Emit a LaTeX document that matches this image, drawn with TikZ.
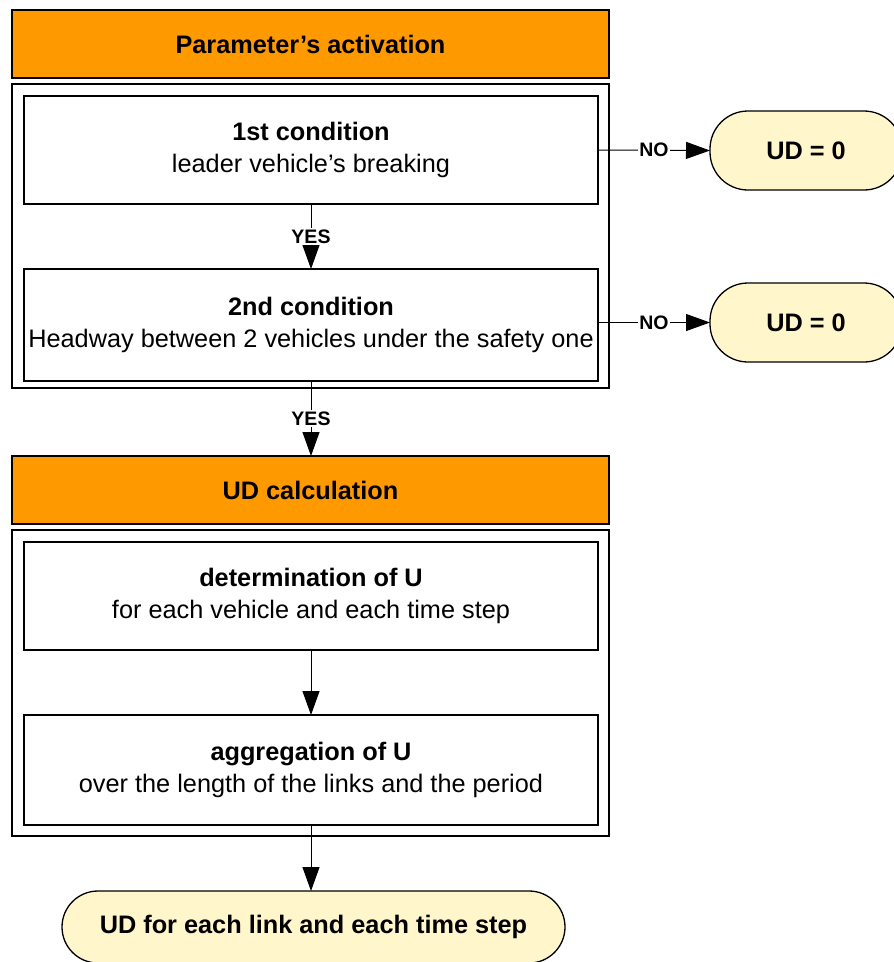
\documentclass[tikz,border=0pt]{standalone}
\usepackage{fontspec}
\setmainfont{Liberation Sans}
\usetikzlibrary{arrows.meta}
\definecolor{hdr}{RGB}{255,153,0}
\definecolor{term}{RGB}{255,246,204}
\tikzset{
  big/.style={font=\fontsize{25.3}{31.5}\selectfont},
  header/.style={draw, line width=1.5pt, fill=hdr, inner sep=0pt, outer sep=0pt, minimum width=597pt, minimum height=68pt, font=\fontsize{25.3}{31.5}\selectfont\bfseries},
  frame/.style={draw, line width=1.5pt, inner sep=0pt, outer sep=0pt, minimum width=597pt},
  stepbox/.style={draw, line width=1.3pt, fill=white, inner sep=0pt, outer sep=0pt, minimum width=574pt, align=center, big},
  terminal/.style={draw, line width=1.3pt, fill=term, inner sep=0pt, outer sep=0pt, rounded corners=38pt, font=\fontsize{25.3}{31.5}\selectfont\bfseries},
  conn/.style={line width=1pt, -{Triangle[length=24pt,width=17pt]}},
  lbl/.style={fill=white, inner sep=1.5pt, font=\fontsize{19.5}{21}\selectfont\bfseries},
}
\begin{document}
\begin{tikzpicture}[x=1pt,y=-1pt]
\useasboundingbox (0,0) rectangle (894,962);
% upper section
\node[header] (h1) at (310.5,44) {Parameter’s activation};
\node[frame, minimum height=304pt] (c1) at (310.5,236) {};
\node[stepbox, minimum height=108pt] (b1) at (311,150) {\textbf{1st condition}\\leader vehicle’s breaking};
\node[stepbox, minimum height=112pt] (b2) at (311,325) {\textbf{2nd condition}\\Headway between 2 vehicles under the safety one};
% lower section
\node[header] (h2) at (310.5,490) {UD calculation};
\node[frame, minimum height=306pt] (c2) at (310.5,683) {};
\node[stepbox, minimum height=108pt] (b3) at (311,596) {\textbf{determination of U}\\for each vehicle and each time step};
\node[stepbox, minimum height=110pt] (b4) at (311,770) {\textbf{aggregation of U}\\over the length of the links and the period};
% terminals
\node[terminal, minimum width=192pt, minimum height=79pt] (u1) at (806,150.5) {UD = 0};
\node[terminal, minimum width=192pt, minimum height=79pt] (u2) at (806,322.5) {UD = 0};
\node[terminal, minimum width=503pt, minimum height=72pt, rounded corners=36pt] (t) at (313.5,927) {UD for each link and each time step};
% connectors
\draw[conn] (b1.south) -- node[lbl] {YES} (b2.north);
\draw[conn] (b2.south) -- node[lbl] {YES} (b2.south |- h2.north);
\draw[conn] (b3.south) -- (b4.north);
\draw[conn] (b4.south) -- (b4.south |- t.north);
\draw[conn] (b1.east) -- node[lbl] {NO} (u1.west);
\draw[conn] (b2.east |- u2.west) -- node[lbl] {NO} (u2.west);
\end{tikzpicture}
\end{document}
